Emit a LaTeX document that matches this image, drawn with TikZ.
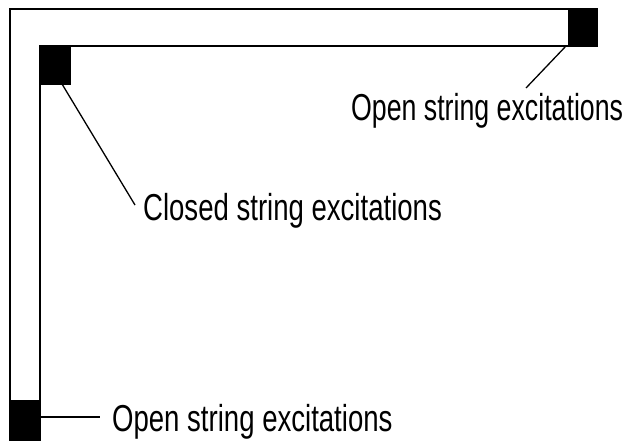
\documentclass[tikz,border=0pt]{standalone}
\usepackage{fontspec}
\setmainfont{Liberation Sans}
\begin{document}
\begin{tikzpicture}[x=1pt,y=-1pt,
  wall/.style={draw=black,line width=1.5pt},
  blk/.style={fill=black,draw=black,line width=0.5pt},
  lead/.style={draw=black,line width=1.3pt},
  lbl/.style={inner sep=0pt,anchor=base west,xscale=0.735,font=\fontsize{37.5}{40}\selectfont}]
\useasboundingbox (0,0) rectangle (629,441);
% L-shaped strip
\draw[wall] (10,441) -- (10,9) -- (597,9) -- (597,46) -- (40,46) -- (40,441);
% black squares
\path[blk] (568,9) rectangle (597,46);
\path[blk] (40,46) rectangle (70,84);
\path[blk] (10,400) rectangle (40,441);
\coordinate (trs) at (566,46);
\coordinate (tls) at (62,84);
\coordinate (bls) at (40,417);
% labels
\node[lbl,xscale=0.97] (topen) at (351,121) {Open string excitations};
\node[lbl] (closed) at (143,220) {Closed string excitations};
\node[lbl] (bopen) at (112,431) {Open string excitations};
\coordinate (te) at (526,88);
\coordinate (ce) at (135,205);
\coordinate (be) at (100,417);
\draw[lead] (trs) -- (te);
\draw[lead] (tls) -- (ce);
\draw[lead] (bls) -- (be);
\end{tikzpicture}
\end{document}
